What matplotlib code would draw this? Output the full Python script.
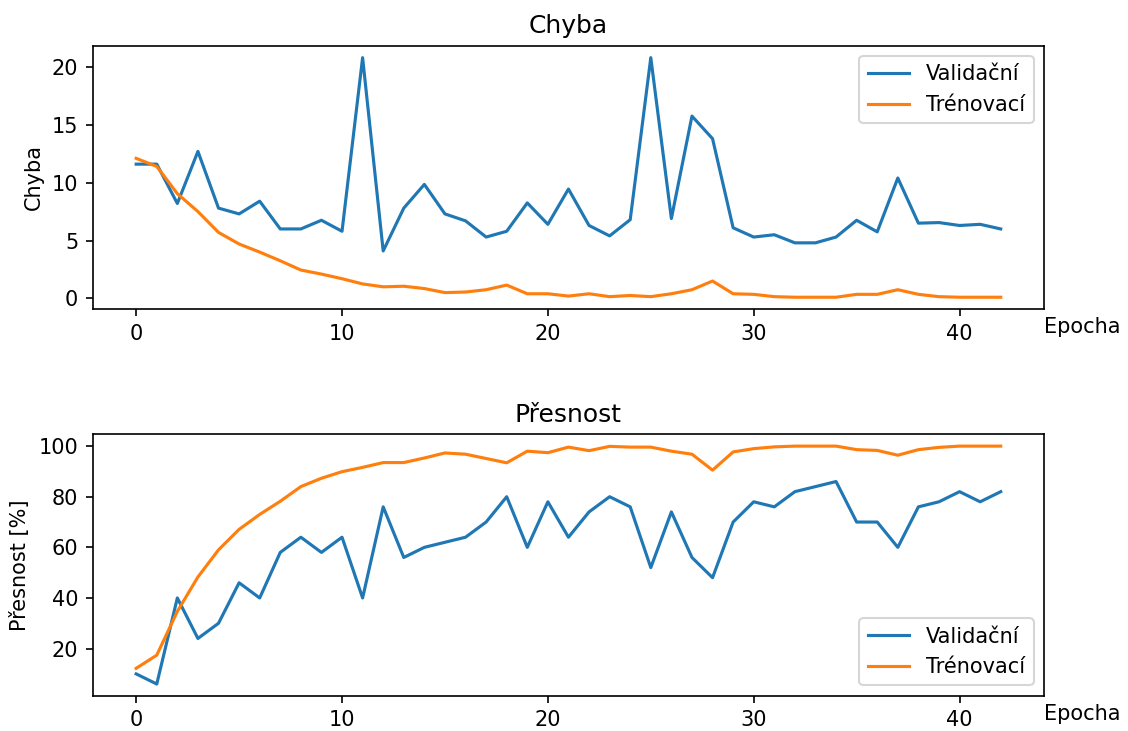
import numpy as np
import matplotlib
matplotlib.use("Agg")
import matplotlib.pyplot as plt

# ------------------------------------------------------------------
# Data
# ------------------------------------------------------------------
epochs = list(range(43))

val_loss = [11.6, 11.6, 8.2, 12.7, 7.8, 7.3, 8.4, 6.0, 6.0, 6.75,
            5.8, 20.8, 4.1, 7.8, 9.85, 7.3, 6.7, 5.3, 5.8, 8.25,
            6.4, 9.45, 6.3, 5.4, 6.8, 20.8, 6.9, 15.75, 13.8, 6.1,
            5.3, 5.5, 4.8, 4.8, 5.3, 6.75, 5.75, 10.4, 6.5, 6.55,
            6.3, 6.4, 6.0]
train_loss = [12.1, 11.4, 9.05, 7.5, 5.7, 4.7, 4.0, 3.25, 2.45, 2.1,
              1.7, 1.25, 1.0, 1.05, 0.85, 0.5, 0.55, 0.75, 1.15, 0.4,
              0.4, 0.2, 0.4, 0.15, 0.25, 0.15, 0.4, 0.75, 1.5, 0.4,
              0.35, 0.15, 0.1, 0.1, 0.1, 0.35, 0.35, 0.75, 0.35, 0.15,
              0.1, 0.1, 0.1]

val_acc = [10, 6, 40, 24, 30, 46, 40, 58, 64, 58,
           64, 40, 76, 56, 60, 62, 64, 70, 80, 60,
           78, 64, 74, 80, 76, 52, 74, 56, 48, 70,
           78, 76, 82, 84, 86, 70, 70, 60, 76, 78,
           82, 78, 82]
train_acc = [12.2, 17.4, 34.7, 48.3, 59.0, 67.1, 73.0, 78.2, 84.0, 87.3,
             89.9, 91.6, 93.5, 93.5, 95.3, 97.3, 96.8, 95.1, 93.4, 98.0,
             97.4, 99.6, 98.2, 99.9, 99.6, 99.6, 98.0, 96.8, 90.5, 97.7,
             99.0, 99.7, 100.0, 100.0, 100.0, 98.6, 98.3, 96.4, 98.6, 99.5,
             100.0, 100.0, 100.0]

labels = ["Validační", "Trénovací"]

# ------------------------------------------------------------------
# Figure
# ------------------------------------------------------------------
fig = plt.figure(figsize=(1128 / 150, 731 / 150), dpi=150)

ax1 = fig.add_axes([0.0824, 0.577, 0.8431, 0.3605])
ax2 = fig.add_axes([0.0824, 0.048, 0.8431, 0.358])

# Loss panel
ax1.plot(epochs, val_loss, label=labels[0])
ax1.plot(epochs, train_loss, label=labels[1])
ax1.set_title("Chyba")
ax1.set_ylabel("Chyba")
ax1.set_xlabel("Epocha")
ax1.xaxis.set_label_coords(1.04, -0.03)
ax1.legend(loc="upper right")

# Accuracy panel
ax2.plot(epochs, val_acc, label=labels[0])
ax2.plot(epochs, train_acc, label=labels[1])
ax2.set_title("Přesnost")
ax2.set_ylabel("Přesnost [%]")
ax2.set_xlabel("Epocha")
ax2.xaxis.set_label_coords(1.04, -0.03)
ax2.legend(loc="lower right")

fig.savefig("out.png", dpi=150)
